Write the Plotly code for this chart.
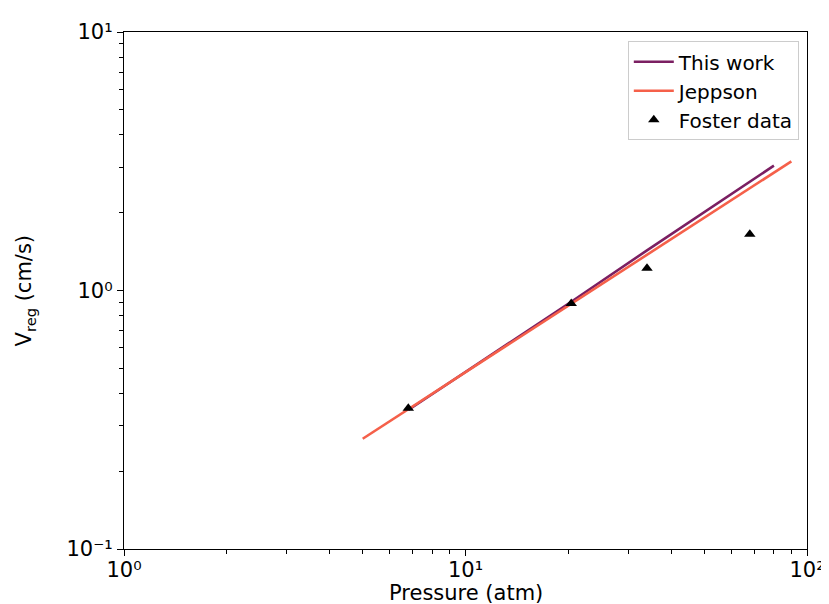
import plotly.graph_objects as go

# Data
this_work_p = [6.8, 20.4, 34.0, 80.0]
this_work_v = [0.345, 0.905, 1.43, 3.04]

jeppson_p = [5.0, 20.4, 34.0, 90.0]
jeppson_v = [0.267, 0.89, 1.38, 3.16]

foster_p = [6.8, 20.4, 34.0, 68.0]
foster_v = [0.35, 0.89, 1.22, 1.65]

x_tickvals = [1, 10, 100]
x_ticktext = ["10\u2070", "10\u00b9", "10\u00b2"]
y_tickvals = [0.1, 1, 10]
y_ticktext = ["10\u207b\u00b9", "10\u2070", "10\u00b9"]

minor_x = [2, 3, 4, 5, 6, 7, 8, 9, 20, 30, 40, 50, 60, 70, 80, 90]
minor_y = [0.2, 0.3, 0.4, 0.5, 0.6, 0.7, 0.8, 0.9, 2, 3, 4, 5, 6, 7, 8, 9]

fig = go.Figure()
fig.add_trace(go.Scatter(x=this_work_p, y=this_work_v, mode="lines", name="This work",
                         line=dict(color="#7b1f62", width=2.6)))
fig.add_trace(go.Scatter(x=jeppson_p, y=jeppson_v, mode="lines", name="Jeppson",
                         line=dict(color="#f5604a", width=2.6)))
fig.add_trace(go.Scatter(x=foster_p, y=foster_v, mode="markers", name="Foster data",
                         marker=dict(symbol="triangle-up", color="black", size=10)))

font = "DejaVu Sans, Arial, sans-serif"
FS = 20
fig.update_layout(
    width=829, height=604,
    margin=dict(l=116, r=20, t=24, b=63),
    paper_bgcolor="white", plot_bgcolor="white",
    font=dict(family=font, size=FS, color="black"),
    showlegend=True,
    legend=dict(x=0.988, y=0.982, xanchor="right", yanchor="top",
                bgcolor="white", bordercolor="#cccccc", borderwidth=1,
                font=dict(size=FS), tracegroupgap=0, itemwidth=40),
    xaxis=dict(type="log", range=[0, 2], tickvals=x_tickvals, ticktext=x_ticktext,
               ticks="outside", ticklen=6, tickwidth=1.3, tickcolor="black",
               tickfont=dict(size=FS + 1), ticklabelstandoff=-4,
               showline=True, linecolor="black", linewidth=1.3, mirror=True,
               showgrid=False, zeroline=False,
               minor=dict(tickvals=minor_x, ticks="outside", ticklen=3.5, tickwidth=1, tickcolor="black", showgrid=False)),
    yaxis=dict(type="log", range=[-1, 1], tickvals=y_tickvals, ticktext=y_ticktext,
               ticks="outside", ticklen=6, tickwidth=1.3, tickcolor="black",
               tickfont=dict(size=FS + 1),
               showline=True, linecolor="black", linewidth=1.3, mirror=True,
               showgrid=False, zeroline=False,
               minor=dict(tickvals=minor_y, ticks="outside", ticklen=3.5, tickwidth=1, tickcolor="black", showgrid=False)),
    annotations=[
        dict(text="Pressure (atm)", xref="paper", yref="paper", x=0.5, y=-0.1122,
             xanchor="center", yanchor="bottom", showarrow=False, font=dict(size=FS + 1)),
        dict(text="V<sub>reg</sub> (cm/s)", xref="paper", yref="paper", x=-0.145, y=0.5,
             xanchor="center", yanchor="middle", textangle=-90, showarrow=False, font=dict(size=FS + 1)),
    ],
)

fig.write_html("out.html")
